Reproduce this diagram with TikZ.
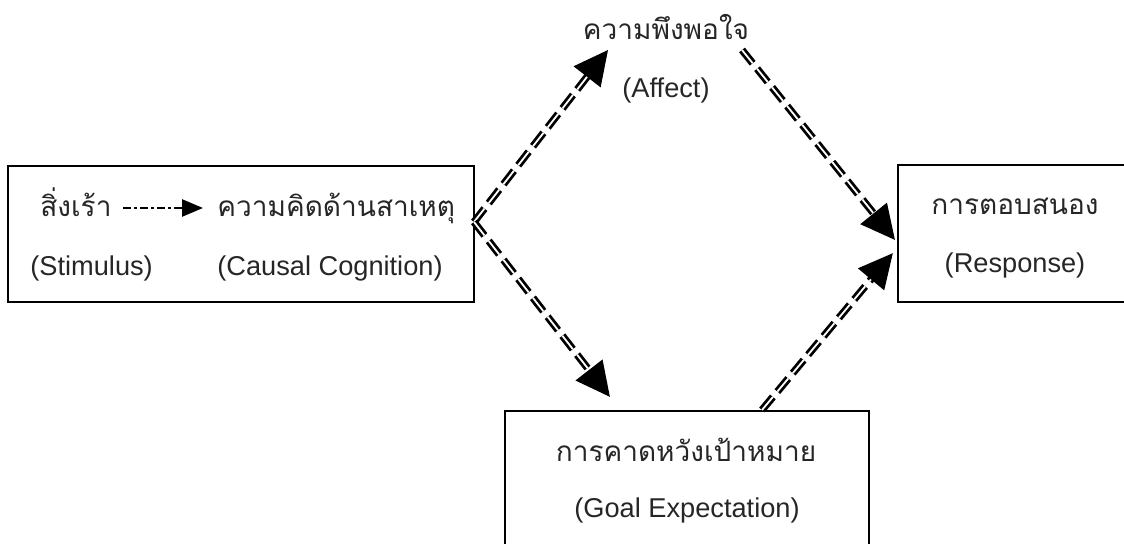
\documentclass[tikz,border=0pt]{standalone}
\usepackage{fontspec}
\setmainfont{Liberation Sans}
\newfontfamily\thai[Script=Thai]{Loma}
\usetikzlibrary{arrows.meta,decorations.markings}
\begin{document}
\begin{tikzpicture}[x=0.5pt,y=-0.5pt,
  box/.style={draw,line width=1pt,inner sep=0pt},
  lat/.style={inner sep=0pt,text=black!85,font=\fontsize{13.6}{16}\selectfont},
  th/.style={inner sep=0pt,text=black!85,font=\thai\fontsize{14}{16}\selectfont},
  dbl/.style={line width=1.4pt,double=white,double distance=0.9pt,dash pattern=on 8.5pt off 3.5pt,shorten >=14pt},
  bigtip/.style={decorate,decoration={markings,mark=at position 1 with {\arrow[line width=0.6pt]{Triangle[length=17pt,width=17pt]}}}},
  smallarrow/.style={line width=1.3pt,dash pattern=on 4pt off 1.5pt on 1.5pt off 1.5pt,-{Triangle[length=10.5pt,width=8.5pt]}}
]
\useasboundingbox (0,0) rectangle (1124,544);
\clip (0,0) rectangle (1124,544);
% boxes
\node[box,minimum width=233pt,minimum height=68pt] (left) at (241,234) {};
\node[box,minimum width=121pt,minimum height=68.5pt] (resp) at (1019,233.5) {};
\node[box,minimum width=182pt,minimum height=79.5pt] (goal) at (687,490.5) {};
% texts in left box
\node[th,anchor=base west] (stim) at (40,217) {สิ่งเร้า};
\node[th,anchor=base west] (caus) at (217,217) {ความคิดด้านสาเหตุ};
\node[lat,anchor=base west] (stimE) at (30,276) {(Stimulus)};
\node[lat,anchor=base west] (causE) at (217,276) {(Causal Cognition)};
\coordinate (sa) at (123,208);
\coordinate (sb) at (203,208);
\draw[smallarrow] (sa) -- (sb);
% response
\node[th,anchor=base] (respT) at (1015,215) {การตอบสนอง};
\node[lat,anchor=base] (respE) at (1015,273) {(Response)};
% affect
\node[th,anchor=base] (affT) at (666,40) {ความพึงพอใจ};
\node[lat,anchor=base] (affE) at (666,98) {(Affect)};
% goal
\node[th,anchor=base] (goalT) at (686,462) {การคาดหวังเป้าหมาย};
\node[lat,anchor=base] (goalE) at (687,518) {(Goal Expectation)};
% connector ends
\coordinate (j) at (474,222);
\coordinate (affIn) at (608,50);
\coordinate (affOut) at (742,50);
\coordinate (resIn1) at (895,240);
\coordinate (resIn2) at (893,253);
\coordinate (goalIn) at (610,397);
\coordinate (goalOut) at (762,410);
% connectors
\draw[dbl] (j) -- (affIn);
\path[bigtip] (j) -- (affIn);
\draw[dbl] (j) -- (goalIn);
\path[bigtip] (j) -- (goalIn);
\draw[dbl] (affOut) -- (resIn1);
\path[bigtip] (affOut) -- (resIn1);
\draw[dbl] (goalOut) -- (resIn2);
\path[bigtip] (goalOut) -- (resIn2);
\end{tikzpicture}
\end{document}
